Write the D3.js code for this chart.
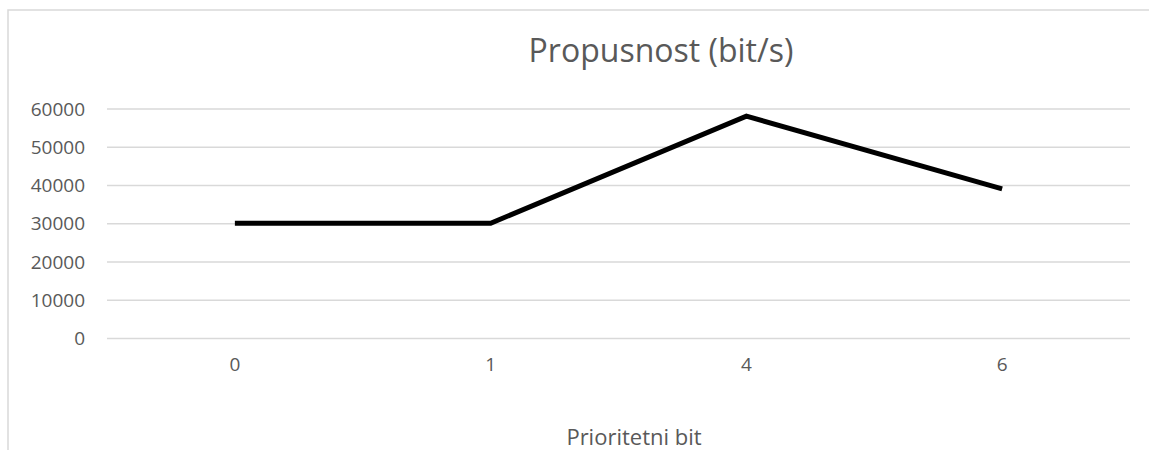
<!DOCTYPE html>
<html lang="en">
<head>
<meta charset="UTF-8">
<title>Propusnost</title>
<script src="https://cdn.jsdelivr.net/npm/d3@7"></script>
<style>
  body { margin: 0; padding: 0; background: #fff; }
  text { font-family: "Open Sans", "Liberation Sans", sans-serif; fill: #595959; }
  .grid line { stroke: #d9d9d9; stroke-width: 1.5; }
  .grid path { display: none; }
  .yAxis path, .yAxis line, .xAxis path, .xAxis line { display: none; }
  .yAxis text, .xAxis text { font-size: 19px; }
  .line1 { fill: none; stroke: #000; stroke-width: 5; stroke-linejoin: miter; }
</style>
</head>
<body>
<div id="chart"></div>
<script>
let categories = ["0", "1", "4", "6"];
let values = [30000, 30000, 58000, 39000];
let yTicks = [0, 10000, 20000, 30000, 40000, 50000, 60000];

let W = 1149, H = 450;
let margin = {top: 108.5, right: 19, bottom: 112, left: 107};
let width = W - margin.left - margin.right,
    height = H - margin.top - margin.bottom;

let svgRoot = d3.select("#chart").append("svg")
  .attr("width", W).attr("height", H);

// chart border
svgRoot.append("rect")
  .attr("x", 8).attr("y", 10)
  .attr("width", W + 10).attr("height", H + 10)
  .attr("fill", "none").attr("stroke", "#d9d9d9").attr("stroke-width", 1.5);

let svg = svgRoot.append("g")
  .attr("transform", "translate(" + margin.left + "," + margin.top + ")");

let x = d3.scaleBand().domain(categories).range([0, width]);
let y = d3.scaleLinear().domain([0, 60000]).range([height, 0]);

svg.append("g").attr("class", "grid")
  .call(d3.axisLeft(y).tickValues(yTicks).tickSize(-width).tickFormat(""));

svg.append("g").attr("class", "yAxis")
  .call(d3.axisLeft(y).tickValues(yTicks).tickSize(0).tickPadding(22).tickFormat(d3.format("d")))
  .selectAll("text").attr("dy", "0.35em");

svg.append("g").attr("class", "xAxis")
  .attr("transform", "translate(0," + height + ")")
  .call(d3.axisBottom(x).tickSize(0).tickPadding(20));

let data = categories.map(function(c, i) { return {cat: c, value: values[i]}; });

svg.append("path").attr("class", "line1").datum(data)
  .attr("d", d3.line()
    .x(function(d) { return x(d.cat) + x.bandwidth() / 2; })
    .y(function(d) { return y(d.value); }));

svgRoot.append("text")
  .attr("x", 661).attr("y", 62)
  .attr("text-anchor", "middle")
  .style("font-size", "32px")
  .text("Propusnost (bit/s)");

svgRoot.append("text")
  .attr("x", 634).attr("y", 445)
  .attr("text-anchor", "middle")
  .style("font-size", "22px")
  .text("Prioritetni bit");
</script>
</body>
</html>
